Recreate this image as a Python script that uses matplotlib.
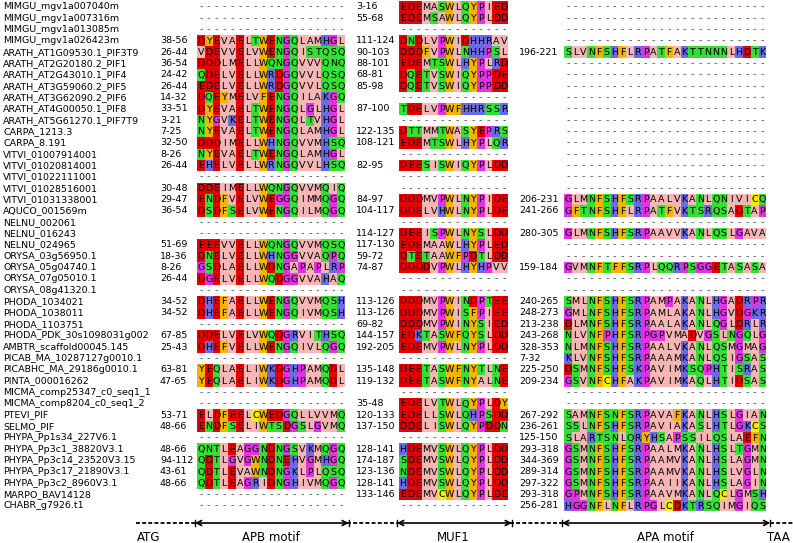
import matplotlib
matplotlib.use("Agg")
import matplotlib.pyplot as plt
from matplotlib.patches import Rectangle

names = [
    "MIMGU_mgv1a007040m", "MIMGU_mgv1a007316m", "MIMGU_mgv1a013085m", "MIMGU_mgv1a026423m",
    "ARATH_AT1G09530.1_PIF3T9", "ARATH_AT2G20180.2_PIF1", "ARATH_AT2G43010.1_PIF4",
    "ARATH_AT3G59060.2_PIF5", "ARATH_AT3G62090.2_PIF6", "ARATH_AT4G00050.1_PIF8",
    "ARATH_AT5G61270.1_PIF7T9", "CARPA_1213.3", "CARPA_8.191", "VITVI_01007914001",
    "VITVI_01020814001", "VITVI_01022111001", "VITVI_01028516001", "VITVI_01031338001",
    "AQUCO_001569m", "NELNU_002061", "NELNU_016243", "NELNU_024965", "ORYSA_03g56950.1",
    "ORYSA_05g04740.1", "ORYSA_07g05010.1", "ORYSA_08g41320.1", "PHODA_1034021",
    "PHODA_1038011", "PHODA_1103751", "PHODA_PDK_30s1098031g002", "AMBTR_scaffold00045.145",
    "PICAB_MA_10287127g0010.1", "PICABHC_MA_29186g0010.1", "PINTA_000016262",
    "MICMA_comp25347_c0_seq1_1", "MICMA_comp8204_c0_seq1_2", "PTEVI_PIF", "SELMO_PIF",
    "PHYPA_Pp1s34_227V6.1", "PHYPA_Pp3c1_38820V3.1", "PHYPA_Pp3c14_23520V3.15",
    "PHYPA_Pp3c17_21890V3.1", "PHYPA_Pp3c2_8960V3.1", "MARPO_BAV14128", "CHABR_g7926.t1",
]

apb_range = [
    "", "", "", "38-56", "26-44", "36-54", "24-42", "26-44", "14-32", "33-51", "3-21",
    "7-25", "32-50", "8-26", "26-44", "", "30-48", "29-47", "36-54", "", "", "51-69",
    "18-36", "8-26", "26-44", "", "34-52", "34-52", "", "67-85", "25-43", "", "63-81",
    "47-65", "", "", "53-71", "48-66", "", "48-66", "94-112", "43-61", "48-66", "", "",
]
apb_seq = [
    "", "", "", "DYEVAELTWENGQLAMHGL", "VDEVVELVWENGQISTQSQ", "DDDLMELLWQNGQVVVQNQ",
    "QDELVELLWRDGQVVLQSQ", "EDELVELLWRDGQVVLQSQ", "DQEYMELVFENGQILAKGQ",
    "DYEVAELTWENGQLGLHGL", "NYGVKELTWENGQLTVHGL", "NYEVAELTWENGQLAMHGL",
    "DDDIMELLWHNGQVVMHSQ", "NYEVAELTWENGQLAMHGL", "EHELVELLWRNGQVVLHSQ", "",
    "DDEIMELLWQNGQVVMQIQ", "ENDFVELVWEGGQIMMQGQ", "DSDFSELVWENGQILMQGQ", "", "",
    "EEEVVELLWQNGQVVMQSQ", "DNELVELLWHNGGVVAQPQ", "GSDLAELLWDNGAPAPLRP",
    "DGELVELLWQDGGVVAHAQ", "", "DHEFAELLWENGQVVMQSH", "DHEFAELLWENGQIVMQSH", "",
    "DDELVELVWQDGRVITHSQ", "DHEFVELLWENGQIVLQGQ", "", "YEQLAELIWKDGHPAMQDL",
    "YEQLAELIWKDGHPAMQDL", "", "", "ELDFEELCWEDGQLLVVMQ", "ENDFSELIWTSDGSLGVMQ", "",
    "QNTLEAGGNDNGSVKMQGQ", "QDTLGVGWNDNEHVGMHGQ", "QDTLEVAWNDNGKLPLQSQ",
    "QDTLEAGRIDNGHIVMQGQ", "", "",
]

muf_range = [
    "3-16", "55-68", "", "111-124", "90-103", "88-101", "68-81", "85-98", "", "87-100", "",
    "122-135", "108-121", "", "82-95", "", "", "84-97", "104-117", "", "114-127", "117-130",
    "59-72", "74-87", "", "", "113-126", "113-126", "69-82", "144-157", "192-205", "",
    "135-148", "119-132", "", "35-48", "120-133", "137-150", "", "128-141", "174-187",
    "123-136", "128-141", "133-146", "",
]
muf_seq = [
    "EDEMASWLQYPIED", "EDEMSAWLQYPLDD", "", "DNDLVPWIDHHRAV", "DDDFVPWLNHHPSL",
    "EDEMTSWLHYPLRD", "DQETVSWIQYPPDE", "DQETVSWIQYPPDD", "", "TDELVPWFHHRSSR", "",
    "DTTMMTWASYEPRS", "EDEMTSWLHYPLQR", "", "DEESISWIQYPLDD", "", "", "DDDMVPWLNYPIDE",
    "DDELVHWLNYPLDE", "", "DEEISPWLNYSLDD", "EDEMAAWLHYPLED", "DTETAAWFPDTLDD",
    "DDDDVPWLHYHPVV", "", "", "DDDMVPWINDPTEE", "DDDMVPWISFPIEE", "DDDMVPWINYSIED",
    "EDKTASWFQYSLDD", "EDEMVPWLNYPLDD", "", "DEETASWFNYTLNE", "DEETASWFNYALNE", "",
    "EDELVTWLQYPLDY", "EDELLSWLQHPSDD", "DDELISWLQYPDDN", "", "HDEMVSWLQYPLDD",
    "SDEMVSWLQYPLDD", "NDEMVSWLQYPLDD", "HDEMVSWLQYPLDD", "EDEMVCWLQYPLDE", "",
]

apa_range = [
    "", "", "", "", "196-221", "", "", "", "", "", "", "", "", "", "", "", "", "206-231",
    "241-266", "", "280-305", "", "", "159-184", "", "", "240-265", "248-273", "213-238",
    "243-268", "328-353", "7-32", "225-250", "209-234", "", "", "267-292", "236-261",
    "125-150", "293-318", "344-369", "289-314", "297-322", "293-318", "256-281",
]
apa_seq = [
    "", "", "", "", "SLVNFSHFLRPATFAKTTNNNLHDTK", "", "", "", "", "", "", "", "", "", "",
    "", "", "GLMNFSHFSRPAALVKANLQNIVICQ", "GFTNFSHFLRPATFVKTSRQSADTAP", "",
    "GLMNFSHFSRPAAVVKANLQSLGAVA", "", "", "GVMNFTFFSRPLQQRPSGGETASASA", "", "",
    "SMLNFSHFSRPAMPAKANLHGADRPR", "GMLNFSHFSRPAMLAKANLHGVDGKR",
    "DLMNFSHFSRPAALAKANLQGLDRLR", "NLVNFPHFSRPGPVMADVGSLNGQLG",
    "NLMNFSHFSRPAALVKANLQSMGMAG", "KLVNFSHFSRPAAAMKANLQSIGSAS",
    "DSMNFSHFSKPAVIMKSQPHTISRAS", "GSVNFCHFAKPAVIMKAQLHTIDSAS", "", "",
    "SAMNFSNFSRPAVAFKANLHSLGIAN", "SSLNFSHFSRPAVIAKASLHTLGKCS",
    "SLARTSNLQRYHSAPSSILQSLAEFN", "GSMNFSHFSRPAALMKANLHSLTGMN",
    "GSMNFSHFSRPAAMVKANLHSLAGMN", "GSMNFSHFSRPAAMVKANLHSLVGLN",
    "GSMNFSHFSRPAAIIKANLHSLAGIN", "GPMNFSHFSRPAAVMKANLQCLGMSH",
    "HGGNFLNFLRPGLCDKTRSQIMGIQS",
]

motif_labels = ["ATG", "APB motif", "MUF1", "APA motif", "TAA"]

# residue colours, everything else sits on pink
palette = {}
for aa in "DE":
    palette[aa] = "#e20000"
for aa in "NQST":
    palette[aa] = "#35e035"
for aa in "KRH":
    palette[aa] = "#6b6be6"
for aa in "GP":
    palette[aa] = "#e034e0"
for aa in "FWY":
    palette[aa] = "#f4b400"
palette["C"] = "#f2f000"
pink = "#f6b6b6"

W, H = 793, 543
fig = plt.figure(figsize=(W / 100, H / 100), dpi=100)
ax = fig.add_axes([0, 0, 1, 1])
ax.set_xlim(0, W)
ax.set_ylim(H, 0)
ax.axis("off")

fs = 6.8
cw = 7.78
pitch = 11.34
y0 = 6.8

# (range x, block x, block length, ranges, seqs)
blocks = [
    (160, 197, 19, apb_range, apb_seq),
    (356, 399, 14, muf_range, muf_seq),
    (519, 564, 26, apa_range, apa_seq),
]

for i, name in enumerate(names):
    y = y0 + i * pitch
    ax.text(3, y, name, fontsize=fs, ha="left", va="center")
    for rx, bx, n, ranges, seqs in blocks:
        seq = seqs[i]
        if ranges[i]:
            ax.text(rx, y, ranges[i], fontsize=fs, ha="left", va="center")
        if not seq:
            for j in range(n):
                ax.text(bx + (j + 0.5) * cw, y, "-", fontsize=fs, ha="center",
                        va="center", color="#444444")
            continue
        for j, aa in enumerate(seq):
            ax.add_patch(Rectangle((bx + j * cw, y - pitch / 2), cw, pitch,
                                   facecolor=palette.get(aa, pink), lw=0))
            ax.text(bx + (j + 0.5) * cw, y + 0.3, aa, fontsize=fs, ha="center",
                    va="center")

# motif axis at the bottom
ya = 523
spans = [(bx, bx + n * cw) for _, bx, n, _, _ in blocks]
gaps = [(136, spans[0][0] - 2), (spans[0][1] + 2, spans[1][0] - 2),
        (spans[1][1] + 2, spans[2][0] - 2), (spans[2][1] + 4, W)]
for a, b in gaps:
    ax.plot([a, b], [ya, ya], color="black", lw=1.3, ls=(0, (2.2, 1.2)))
for a, b in spans:
    a, b = a - 2, b + 4
    ax.annotate("", xy=(a, ya), xytext=(b, ya),
                arrowprops=dict(arrowstyle="<->,head_length=0.35,head_width=0.18",
                                color="black", lw=1.2, shrinkA=0, shrinkB=0))
    for x in (a, b):
        ax.plot([x, x], [ya - 3, ya + 3], color="black", lw=1.0)

label_x = [149, (spans[0][0] + spans[0][1]) / 2, (spans[1][0] + spans[1][1]) / 2,
           (spans[2][0] + spans[2][1]) / 2, 778]
for x, lab in zip(label_x, motif_labels):
    ax.text(x, 537.5, lab, fontsize=8.5, ha="center", va="center")

fig.savefig("out.png", dpi=100)
